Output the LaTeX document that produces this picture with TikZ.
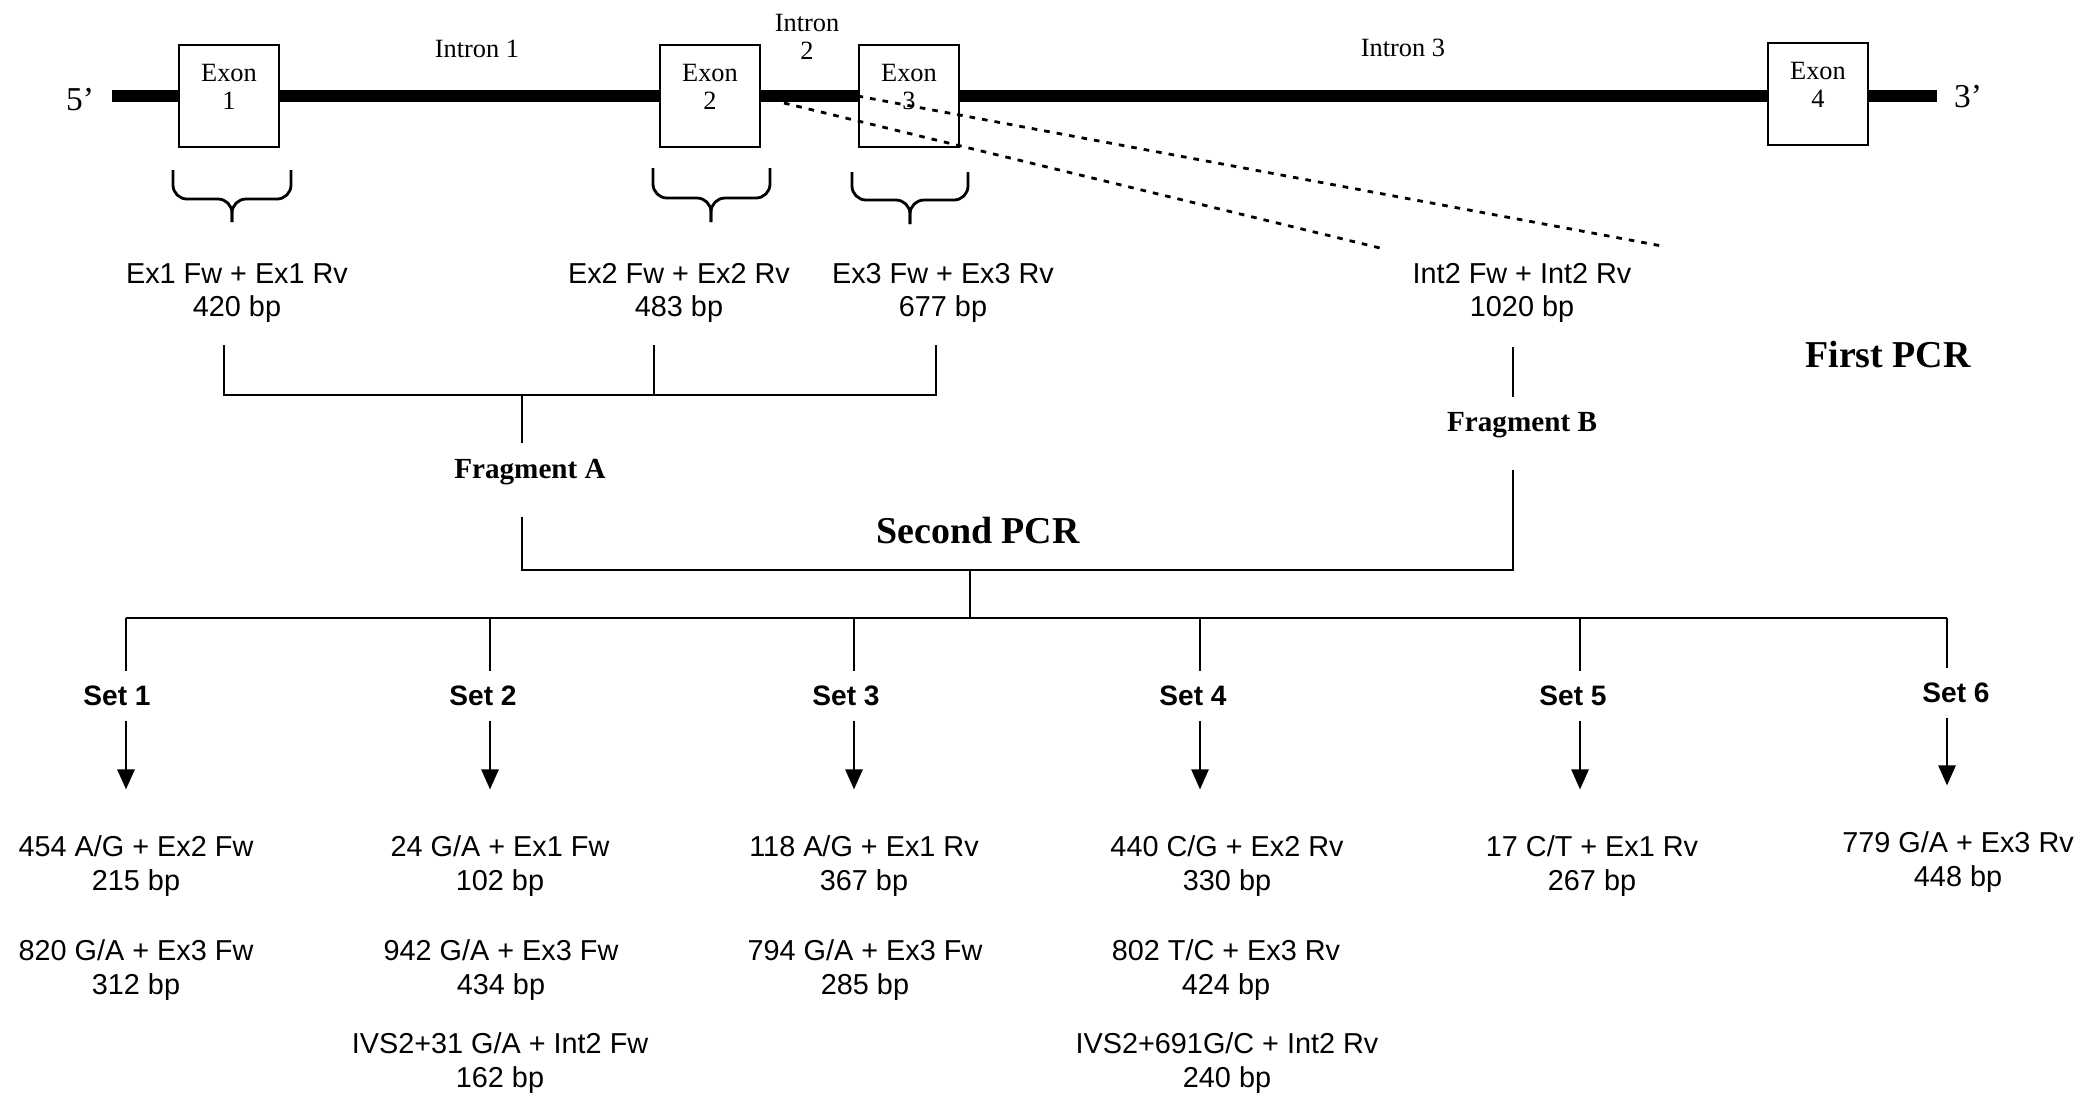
\documentclass[tikz,border=0pt]{standalone}
\usepackage{fontspec}
\setmainfont{Liberation Serif}
\setsansfont{Liberation Sans}
\usepackage{tikz}
\usetikzlibrary{arrows.meta,positioning,calc}

\begin{document}
\begin{tikzpicture}[
    gene/.style={line width=0.12cm},
    exonbox/.style={rectangle, draw, line width=0.8pt, fill=white,
                    minimum width=1cm, minimum height=1.02cm, inner sep=0pt},
    exonlbl/.style={font=\fontsize{7.5}{8}\selectfont, align=center, inner sep=0pt},
    endlbl/.style={font=\fontsize{9.5}{11}\selectfont},
    primerlbl/.style={font=\sffamily\fontsize{8.2}{9.5}\selectfont, align=center},
    fraglbl/.style={font=\bfseries\fontsize{8.3}{10}\selectfont},
    pcrlbl/.style={font=\bfseries\fontsize{10.8}{13}\selectfont},
    setlbl/.style={font=\sffamily\bfseries\fontsize{8}{10}\selectfont, inner sep=1.4mm},
    brc/.style={line width=0.8pt, rounded corners=0.14cm},
    introndash/.style={line width=0.8pt, dash pattern=on 1.6pt off 2pt},
    link/.style={line width=0.7pt},
    arr/.style={-{Triangle[length=0.2cm, width=0.17cm]}, line width=0.7pt, shorten >=0.34cm}
  ]
    \useasboundingbox (0,0) rectangle (20.82,-10.93);

    % Gene
    \node[endlbl] (p5) at (0.80,-1.00) {5'};
    \node[endlbl] (p3) at (19.68,-0.97) {3'};
    \coordinate (gl) at (1.12,-0.96);
    \coordinate (gr) at (19.37,-0.96);
    \draw[gene] (gl) -- (gr);

    \node[exonlbl] (in1) at (4.77,-0.49) {Intron 1};
    \node[exonlbl] (in2) at (8.07,-0.37) {Intron\\2};
    \node[exonlbl] (in3) at (14.03,-0.48) {Intron 3};

    % Exons
    \node[exonbox] (ex1) at (2.29,-0.96) {};
    \node[exonbox] (ex2) at (7.10,-0.96) {};
    \node[exonbox] (ex3) at (9.09,-0.96) {};
    \node[exonbox] (ex4) at (18.18,-0.94) {};
    \node[exonlbl] (lbl1) at ([yshift=0.09cm]ex1.center) {Exon\\1};
    \node[exonlbl] (lbl2) at ([yshift=0.09cm]ex2.center) {Exon\\2};
    \node[exonlbl] (lbl3) at ([yshift=0.09cm]ex3.center) {Exon\\3};
    \node[exonlbl] (lbl4) at ([yshift=0.09cm]ex4.center) {Exon\\4};

    % Intron 2 zoom
    \coordinate (d1) at (7.84,-1.03);
    \coordinate (d1e) at (13.80,-2.48);
    \coordinate (d2e) at (16.62,-2.46);
    \draw[introndash] (d1) -- (d1e);
    \draw[introndash] (ex3.west) -- (d2e);

    % Braces
    \draw[brc] (1.73,-1.70) -- (1.73,-1.99) -- (2.32,-1.99) -- (2.32,-2.22);
    \draw[brc] (2.91,-1.70) -- (2.91,-1.99) -- (2.32,-1.99) -- (2.32,-2.22);
    \draw[brc] (6.53,-1.68) -- (6.53,-1.98) -- (7.11,-1.98) -- (7.11,-2.22);
    \draw[brc] (7.70,-1.68) -- (7.70,-1.98) -- (7.11,-1.98) -- (7.11,-2.22);
    \draw[brc] (8.52,-1.72) -- (8.52,-2.00) -- (9.10,-2.00) -- (9.10,-2.24);
    \draw[brc] (9.68,-1.72) -- (9.68,-2.00) -- (9.10,-2.00) -- (9.10,-2.24);

    % First PCR
    \node[primerlbl] (pr1) at (2.37,-2.93) {Ex1 Fw + Ex1 Rv\\420 bp};
    \node[primerlbl] (pr2) at (6.79,-2.93) {Ex2 Fw + Ex2 Rv\\483 bp};
    \node[primerlbl] (pr3) at (9.43,-2.93) {Ex3 Fw + Ex3 Rv\\677 bp};
    \node[primerlbl] (pr4) at (15.22,-2.93) {Int2 Fw + Int2 Rv\\1020 bp};
    \node[pcrlbl] (pcr1) at (18.88,-3.54) {First PCR};

    \coordinate (a1) at (2.24,-3.45);
    \coordinate (a2) at (6.54,-3.45);
    \coordinate (a3) at (9.36,-3.45);
    \coordinate (ja) at (5.22,-3.95);
    \coordinate (fa) at (5.22,-4.43);
    \draw[link] (a1) |- (ja -| a3) -- (a3);
    \draw[link] (a2) -- (a2 |- ja);
    \draw[link] (ja) -- (fa);
    \node[fraglbl] (fragA) at (5.30,-4.72) {Fragment A};

    \coordinate (fb1) at (15.13,-3.47);
    \coordinate (fb2) at (15.13,-3.97);
    \draw[link] (fb1) -- (fb2);
    \node[fraglbl] (fragB) at (15.22,-4.25) {Fragment B};

    % Second PCR
    \node[pcrlbl] (pcr2) at (9.78,-5.30) {Second PCR};
    \coordinate (fa2) at (5.22,-5.17);
    \coordinate (fb3) at (15.13,-4.70);
    \coordinate (jc) at (9.70,-5.70);
    \coordinate (jd) at (9.70,-6.18);
    \draw[link] (fa2) |- (jc -| fb3) -- (fb3);
    \draw[link] (jc) -- (jd);

    % Sets
    \coordinate (b1) at (1.26,-6.18);
    \coordinate (b2) at (4.90,-6.18);
    \coordinate (b3) at (8.54,-6.18);
    \coordinate (b4) at (12.00,-6.18);
    \coordinate (b5) at (15.80,-6.18);
    \coordinate (b6) at (19.47,-6.18);
    \draw[link, line width=0.8pt] (b1) -- (b6);

    \node[setlbl] (s1) at (1.17,-6.96) {Set 1};
    \node[setlbl] (s2) at (4.83,-6.96) {Set 2};
    \node[setlbl] (s3) at (8.46,-6.96) {Set 3};
    \node[setlbl] (s4) at (11.93,-6.96) {Set 4};
    \node[setlbl] (s5) at (15.73,-6.96) {Set 5};
    \node[setlbl] (s6) at (19.56,-6.93) {Set 6};

    % Results
    \node[primerlbl] (res1)  at (1.36,-8.66) {454 A/G + Ex2 Fw\\215 bp};
    \node[primerlbl] (res1b) at (1.36,-9.70) {820 G/A + Ex3 Fw\\312 bp};
    \node[primerlbl] (res2)  at (5.00,-8.66) {24 G/A + Ex1 Fw\\102 bp};
    \node[primerlbl] (res2b) at (5.01,-9.70) {942 G/A + Ex3 Fw\\434 bp};
    \node[primerlbl] (res2c) at (5.00,-10.63) {IVS2+31 G/A + Int2 Fw\\162 bp};
    \node[primerlbl] (res3)  at (8.64,-8.66) {118 A/G + Ex1 Rv\\367 bp};
    \node[primerlbl] (res3b) at (8.65,-9.70) {794 G/A + Ex3 Fw\\285 bp};
    \node[primerlbl] (res4)  at (12.27,-8.66) {440 C/G + Ex2 Rv\\330 bp};
    \node[primerlbl] (res4b) at (12.26,-9.70) {802 T/C + Ex3 Rv\\424 bp};
    \node[primerlbl] (res4c) at (12.27,-10.63) {IVS2+691G/C + Int2 Rv\\240 bp};
    \node[primerlbl] (res5)  at (15.92,-8.66) {17 C/T + Ex1 Rv\\267 bp};
    \node[primerlbl] (res6)  at (19.58,-8.62) {779 G/A + Ex3 Rv\\448 bp};

    \draw[link] (b1) -- (b1 |- s1.north);
    \draw[link] (b2) -- (b2 |- s2.north);
    \draw[link] (b3) -- (b3 |- s3.north);
    \draw[link] (b4) -- (b4 |- s4.north);
    \draw[link] (b5) -- (b5 |- s5.north);
    \draw[link] (b6) -- (b6 |- s6.north);

    \draw[arr] (b1 |- s1.south) -- (b1 |- res1.north);
    \draw[arr] (b2 |- s2.south) -- (b2 |- res2.north);
    \draw[arr] (b3 |- s3.south) -- (b3 |- res3.north);
    \draw[arr] (b4 |- s4.south) -- (b4 |- res4.north);
    \draw[arr] (b5 |- s5.south) -- (b5 |- res5.north);
    \draw[arr] (b6 |- s6.south) -- (b6 |- res6.north);
  \end{tikzpicture}
\end{document}
